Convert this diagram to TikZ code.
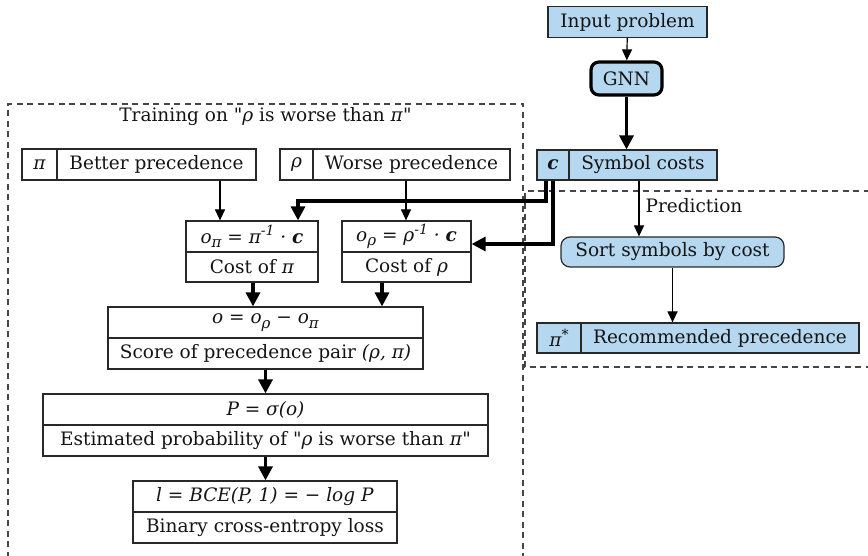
\documentclass[tikz,border=0pt]{standalone}
\usepackage{fontspec}
\newfontfamily\dv{DejaVu Serif}
\usetikzlibrary{arrows.meta}
\definecolor{fillc}{RGB}{182,215,240}
\definecolor{linec}{RGB}{40,40,40}
\definecolor{dashc}{RGB}{70,70,70}
\tikzset{
  every node/.style={font=\dv\fontsize{18.5}{21}\selectfont, text=black!92},
  cell/.style={draw=linec, line width=1.2pt, minimum height=31pt, inner sep=0pt, anchor=center},
  bcell/.style={cell, fill=fillc},
  thin/.style={draw=black, line width=1.2pt, -{Triangle[length=11pt,width=10pt]}},
  thick/.style={draw=black, line width=3.2pt, -{Triangle[length=14pt,width=14pt]}},
  clust/.style={draw=dashc, line width=1.2pt, dash pattern=on 6pt off 4.5pt},
}
\newcommand{\m}[1]{\textit{#1}}
\newcommand{\mysub}[1]{\raisebox{-0.45ex}{\fontsize{15}{15}\selectfont\itshape #1}}
\newcommand{\mysup}[1]{\raisebox{0.75ex}{\fontsize{14}{14}\selectfont\itshape #1}}
\begin{document}
\begin{tikzpicture}[x=1pt,y=-1pt]
\useasboundingbox (0,0) rectangle (868,556);
% clusters
\draw[clust] (8,568) -- (8,104) -- (523,104) -- (523,568);
\draw[clust] (880,191) -- (525,191) -- (525,367) -- (880,367);
\node[anchor=center] (tlabel) at (265.5,117) {Training on "\m{ρ} is worse than \m{π}"};
% prediction side
\node[bcell, minimum width=159pt] (input) at (627.5,22) {Input problem};
\node[bcell, minimum width=71pt, minimum height=33pt, rounded corners=8pt, line width=3.2pt, draw=black] (gnn) at (626.5,78.5) {GNN};
\node[bcell, minimum width=32pt, minimum height=30pt] (c) at (553,165) {\textbf{\textit{c}}};
\node[bcell, minimum width=148pt, minimum height=30pt] (costs) at (643,165) {Symbol costs};
\node[bcell, minimum width=223pt, minimum height=30pt, rounded corners=9pt] (sort) at (672.5,252) {Sort symbols by cost};
\node[bcell, minimum width=44pt, minimum height=30pt] (pistar) at (559,338) {\m{π}\mysup{*}};
\node[bcell, minimum width=278pt, minimum height=30pt] (rec) at (720,338) {Recommended precedence};
% training side
\node[cell, minimum width=35pt] (pi) at (39.5,164.5) {\m{π}};
\node[cell, minimum width=199pt] (better) at (156.5,164.5) {Better precedence};
\node[cell, minimum width=33pt] (rho) at (296.5,164.5) {\m{ρ}};
\node[cell, minimum width=197pt] (worse) at (411.5,164.5) {Worse precedence};
\node[cell, minimum width=132pt, minimum height=31pt] (opi) at (252,236.5) {\m{o\mysub{π} = π\mysup{-1} ·} \textbf{\textit{c}}};
\node[cell, minimum width=132pt, minimum height=30pt] (costpi) at (252,267) {Cost of \m{π}};
\node[cell, minimum width=129pt, minimum height=31pt] (orho) at (406.5,236.5) {\m{o\mysub{ρ} = ρ\mysup{-1} ·} \textbf{\textit{c}}};
\node[cell, minimum width=129pt, minimum height=30pt] (costrho) at (406.5,267) {Cost of \m{ρ}};
\node[cell, minimum width=315pt] (o) at (265.5,322.5) {\m{o = o\mysub{ρ} − o\mysub{π}}};
\node[cell, minimum width=315pt] (score) at (265.5,353.5) {Score of precedence pair \m{(ρ, π)}};
\node[cell, minimum width=445pt] (p) at (265.5,409.5) {\m{P = σ(o)}};
\node[cell, minimum width=445pt] (prob) at (265.5,440.5) {Estimated probability of "\m{ρ} is worse than \m{π}"};
\node[cell, minimum width=264pt] (l) at (265,496.5) {\m{l = BCE(P, 1) = − log P}};
\node[cell, minimum width=264pt] (bce) at (265,527.5) {Binary cross-entropy loss};
% connectors
\draw[thin] (input) -- (gnn);
\draw[thick] (gnn) -- (gnn |- costs.north);
\draw[thin] ([xshift=-4pt]costs.south) -- ([xshift=-4pt]costs.south |- sort.north)
  node[pos=0.45, anchor=west, inner sep=0pt, xshift=6pt] (predlabel) {Prediction};
\draw[thin] (sort) -- (sort |- rec.north);
\draw[thin] ([xshift=63.5pt]better.south) -- ([xshift=63.5pt]better.south |- opi.north);
\draw[thin] ([xshift=-5.5pt]worse.south) -- ([xshift=-5.5pt]worse.south |- orho.north);
\draw[thick] ([xshift=-7pt]c.south) |- (298,201) -- (298,201 |- opi.north);
\draw[thick] (c.south) |- ([yshift=-7.5pt]orho.east);
\draw[thick] ([xshift=1pt]costpi.south) -- ([xshift=1pt]costpi.south |- o.north);
\draw[thick] ([xshift=-24.5pt]costrho.south) -- ([xshift=-24.5pt]costrho.south |- o.north);
\draw[thick] (score) -- (score |- p.north);
\draw[thick] (prob) -- (prob |- l.north);
\end{tikzpicture}
\end{document}
